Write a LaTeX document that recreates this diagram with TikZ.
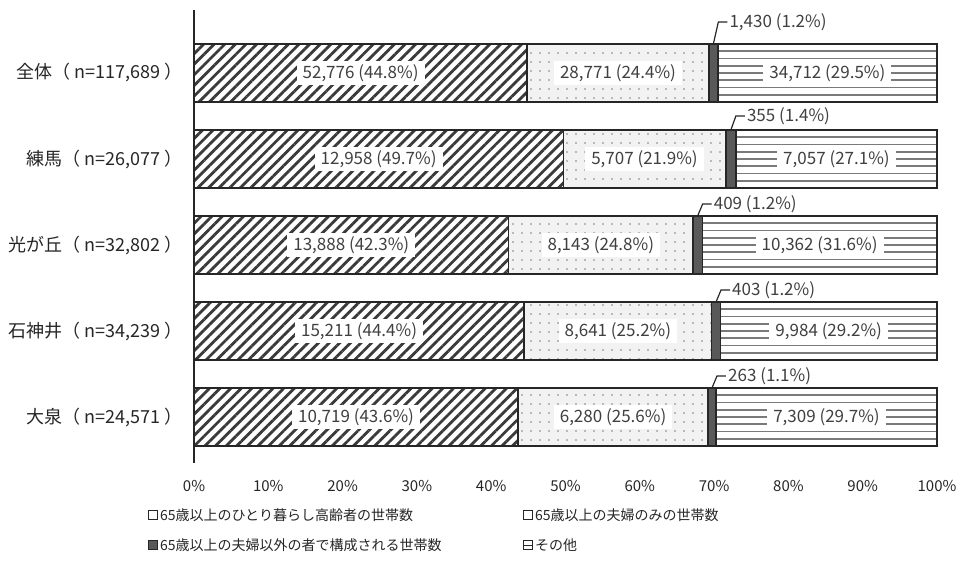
\documentclass[tikz,border=0pt]{standalone}
\usepackage{fontspec}
\setmainfont{Noto Sans CJK JP}
\usetikzlibrary{patterns.meta}
\definecolor{txt}{HTML}{404040}
\definecolor{edge}{HTML}{262626}
\definecolor{stripe}{HTML}{3A3A3A}
\definecolor{dotbg}{HTML}{F2F2F2}
\definecolor{dotfg}{HTML}{7F7F7F}
\definecolor{darkseg}{HTML}{595959}
\definecolor{hline}{HTML}{7A7A7A}
\tikzset{
  slashfill/.style={pattern={Lines[angle=45,distance=7.5pt,line width=2.8pt]},pattern color=stripe},
  dotfill/.style={fill=dotbg,postaction={pattern={Dots[distance=9pt,radius=0.8pt]},pattern color=dotfg}},
  darkfill/.style={fill=darkseg},
  hl/.style={draw=hline,line width=1.6pt},
  barline/.style={draw=edge,line width=1.4pt},
  datalab/.style={fill=white,text=txt,inner xsep=6pt,inner ysep=3pt,font=\fontsize{17}{20}\selectfont},
  smalllab/.style={fill=white,text=txt,inner xsep=2pt,inner ysep=1pt,font=\fontsize{17}{20}\selectfont},
  leader/.style={draw=edge,line width=1.2pt},
  catlab/.style={text=edge,font=\fontsize{18}{21}\selectfont},
  ticklab/.style={text=edge,font=\fontsize{15}{18}\selectfont},
  legmark/.style={draw=edge,line width=0.8pt,minimum size=9pt,inner sep=0pt},
  legtext/.style={text=edge,font=\fontsize{14}{17}\selectfont,inner sep=2pt},
}
\begin{document}
\begin{tikzpicture}[x=1pt,y=-1pt]
\useasboundingbox (0,0) rectangle (959,566);
\foreach \id/\t/\pa/\pb/\pc/\cat/\la/\lb/\lc/\ld/\off in {
 1/44/44.84/24.45/1.215/{全体（ n=117,689 ）}/{52,776 (44.8\%)}/{28,771 (24.4\%)}/{1,430 (1.2\%)}/{34,712 (29.5\%)}/22,
 2/130/49.69/21.885/1.361/{練馬（ n=26,077 ）}/{12,958 (49.7\%)}/{5,707 (21.9\%)}/{355 (1.4\%)}/{7,057 (27.1\%)}/14,
 3/216/42.34/24.82/1.247/{光が丘（ n=32,802 ）}/{13,888 (42.3\%)}/{8,143 (24.8\%)}/{409 (1.2\%)}/{10,362 (31.6\%)}/12,
 4/302/44.43/25.24/1.177/{石神井（ n=34,239 ）}/{15,211 (44.4\%)}/{8,641 (25.2\%)}/{403 (1.2\%)}/{9,984 (29.2\%)}/12,
 5/388/43.62/25.56/1.070/{大泉（ n=24,571 ）}/{10,719 (43.6\%)}/{6,280 (25.6\%)}/{263 (1.1\%)}/{7,309 (29.7\%)}/12}{
 \pgfmathsetmacro\xa{194+7.43*\pa}
 \pgfmathsetmacro\xb{\xa+7.43*\pb}
 \pgfmathsetmacro\xc{\xb+7.43*\pc}
 \pgfmathsetmacro\yb{\t+58}
 \pgfmathsetmacro\ym{\t+29}
 \pgfmathsetmacro\ly{\t-\off}
 \pgfmathsetmacro\xm{(\xb+\xc)/2}
 \path[slashfill] (194,\t) rectangle (\xa,\yb);
 \path[dotfill] (\xa,\t) rectangle (\xb,\yb);
 \path[darkfill] (\xb,\t) rectangle (\xc,\yb);
 \foreach \j in {1,...,7}{\draw[hl] (\xc,\t+\j*7.25) -- (937,\t+\j*7.25);}
 \draw[barline] (194,\t) rectangle (937,\yb) (\xa,\t) -- (\xa,\yb) (\xb,\t) -- (\xb,\yb) (\xc,\t) -- (\xc,\yb);
 \node[datalab] (d\id a) at ({(194+\xa)/2},\ym) {\la};
 \node[datalab] (d\id b) at ({(\xa+\xb)/2},\ym) {\lb};
 \node[datalab] (d\id d) at ({(\xc+937)/2},\ym) {\ld};
 \node[smalllab,anchor=west] (d\id c) at (\xm+14,\ly) {\lc};
 \coordinate (s\id) at (\xm,\t);
 \draw[leader] (s\id) -- (\xm+5,\ly) -- (d\id c.west);
 \node[catlab,anchor=east] (c\id) at (186,\ym) {\cat};
}
\coordinate (axtop) at (194,10);
\coordinate (axbot) at (194,463);
\draw[edge,line width=1.4pt] (axtop) -- (axbot);
\foreach \k in {0,...,10}{
 \node[ticklab] (t\k) at (194+74.3*\k,486) {\the\numexpr\k*10\relax\%};
}
\node[legmark,fill=white] (m1) at (153,515) {};
\node[legtext,anchor=west] (l1) at (m1.east) {65歳以上のひとり暮らし高齢者の世帯数};
\node[legmark,fill=white] (m2) at (528,515) {};
\node[legtext,anchor=west] (l2) at (m2.east) {65歳以上の夫婦のみの世帯数};
\node[legmark,fill=darkseg] (m3) at (153,545) {};
\node[legtext,anchor=west] (l3) at (m3.east) {65歳以上の夫婦以外の者で構成される世帯数};
\node[legmark,fill=white] (m4) at (528,545) {};
\draw[edge,line width=0.8pt] (m4.west) -- (m4.east);
\node[legtext,anchor=west] (l4) at (m4.east) {その他};
\end{tikzpicture}
\end{document}
